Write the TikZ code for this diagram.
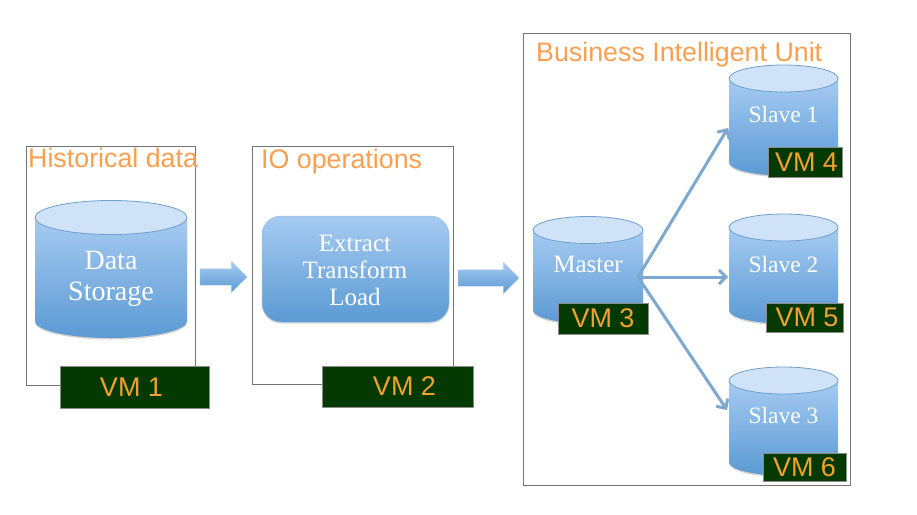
\documentclass[tikz,border=0pt]{standalone}
\usepackage{fontspec}
\usepackage{xcolor}
\usepackage{tikz}
\usetikzlibrary{arrows.meta,shapes.arrows,shadows}
\setmainfont{Liberation Serif}
\setsansfont{Liberation Sans}
\definecolor{bodytop}{HTML}{A6CBF2}
\definecolor{bodylow}{HTML}{5B9AD3}
\definecolor{lidfill}{HTML}{CFE2F8}
\definecolor{edgeblue}{HTML}{6E9FCB}
\definecolor{titleorange}{HTML}{F99F50}
\definecolor{vmorange}{HTML}{F2A02E}
\definecolor{vmgreen}{HTML}{043A02}
\begin{document}
\begin{tikzpicture}[x=1pt,y=-1pt,
    frame/.style={draw=black!55,line width=0.9pt},
    title/.style={anchor=base west,inner sep=0pt,text=titleorange,font=\sffamily\fontsize{26.8}{30}\selectfont},
    vmbox/.style={draw=black!45,line width=0.5pt,fill=vmgreen,text=vmorange,inner sep=0pt,font=\sffamily\fontsize{27}{30}\selectfont},
    drumtext/.style={align=center,inner sep=0pt,text=white},
    flow/.style={single arrow,inner xsep=0pt,inner ysep=8pt,single arrow head extend=7.5pt,top color=bodytop,bottom color=bodylow,draw=bodylow!50!white,line width=0.3pt},
    link/.style={draw=edgeblue!90,line width=3pt,-{Straight Barb[length=7pt,width=14pt,line width=3pt]}}]
  \useasboundingbox (0,0) rectangle (917,514);
  \fill[white] (0,0) rectangle (917,514);
  % frames
  \draw[frame] (26.5,146) rectangle (195.5,385);
  \draw[frame] (252.5,146) rectangle (453.5,384);
  \draw[frame] (523.5,33) rectangle (850.5,485);
  % drums
  \foreach \nm/\cx/\rx/\ry/\ty/\by/\lab/\fs/\tx in {%
      store/111/76/17/217.5/321/{Data\\[4pt]Storage}/28/279,%
      master/588/55/13.5/230/310/Master/25/264,%
      slaveone/783.5/54.5/13.5/78.5/162/{Slave 1}/23.5/114,%
      slavetwo/783.5/54.5/13.5/227.5/310/{Slave 2}/23.5/264,%
      slavethree/783.5/54.5/13.5/380.5/462/{Slave 3}/23.5/415} {
    \path[top color=bodytop,bottom color=bodylow,drop shadow={shadow xshift=0pt,shadow yshift=-1.5pt,opacity=0.35}]
      (\cx-\rx,\ty) -- (\cx-\rx,\by) arc[start angle=180,end angle=0,x radius=\rx,y radius=\ry] -- (\cx+\rx,\ty)
      arc[start angle=0,end angle=180,x radius=\rx,y radius=\ry] -- cycle;
    \draw[edgeblue,line width=0.8pt,fill=lidfill] (\cx,\ty) ellipse [x radius=\rx,y radius=\ry];
    \node[drumtext,font=\fontsize{\fs}{27}\selectfont] (\nm) at (\cx,\tx) {\lab};
  }
  % etl box
  \node[rounded corners=19pt,minimum width=187pt,minimum height=106pt,inner sep=0pt,top color=bodytop,bottom color=bodylow,
    draw=edgeblue!70,line width=0.5pt,drop shadow={shadow xshift=0pt,shadow yshift=-1.5pt,opacity=0.3}] (etl) at (355.5,269) {};
  \node[drumtext,font=\fontsize{25}{27}\selectfont] (etltext) at (355,270) {Extract\\Transform\\Load};
  % block arrows
  \node[flow,minimum height=47pt] (flowone) at (219.5,277) {};
  \node[flow,minimum height=61pt] (flowtwo) at (484.5,278) {};
  % master to slaves
  \coordinate (mout) at (638,277);
  \coordinate (sone) at (728,128);
  \coordinate (stwo) at (728,277);
  \coordinate (sthree) at (727,410);
  \foreach \e in {sone,stwo,sthree} {
    \draw[link] (mout) -- (\e);
  }
  % vm tags
  \foreach \nm/\cx/\cy/\w/\h/\lab in {%
      vmone/134.5/387/149/42/\hspace{-6pt}VM 1,%
      vmtwo/397.5/386.5/151/41/\hspace{14pt}VM 2,%
      vmthree/603/318.5/90/31/VM 3,%
      vmfour/805/162/74/30/\hspace{3pt}VM 4,%
      vmfive/804.5/317.5/77/29/\hspace{5pt}VM 5,%
      vmsix/804.5/467/83/28/VM 6} {
    \node[vmbox,minimum width=\w pt,minimum height=\h pt] (\nm) at (\cx,\cy) {\lab};
  }
  % titles
  \node[title] (thist) at (28,167) {Historical data};
  \node[title] (tio) at (261,168) {IO operations};
  \node[title] (tbiz) at (536,61) {Business Intelligent Unit};
\end{tikzpicture}
\end{document}
